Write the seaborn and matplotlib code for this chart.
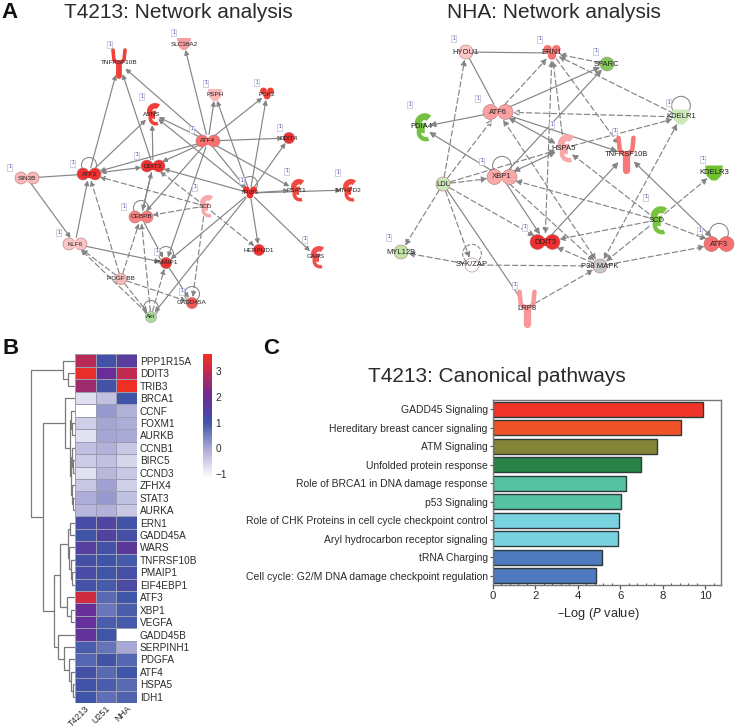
import numpy as np
import pandas as pd
import matplotlib
matplotlib.use("Agg")
import matplotlib.pyplot as plt
import seaborn as sns
from matplotlib.colors import LinearSegmentedColormap
from matplotlib.patches import Circle, Wedge, Polygon, Rectangle
from matplotlib.ticker import MultipleLocator

W, H = 735, 727

# ===== data: heatmap =====
samples = ["T4213", "U251", "NHA"]
genes = ["PPP1R15A", "DDIT3", "TRIB3", "BRCA1", "CCNF", "FOXM1", "AURKB", "CCNB1", "BIRC5", "CCND3",
         "ZFHX4", "STAT3", "AURKA", "ERN1", "GADD45A", "WARS", "TNFRSF10B", "PMAIP1", "EIF4EBP1",
         "ATF3", "XBP1", "VEGFA", "GADD45B", "SERPINH1", "PDGFA", "ATF4", "HSPA5", "IDH1"]
t4213 = [2.9, 3.5, 2.6, -0.7, -1.15, -0.5, -0.75, -0.3, -0.45, -0.75, -0.4, -0.05, -0.2, 1.2, 1.0, 1.5,
         1.15, 1.25, 1.1, 3.2, 1.9, 1.9, 1.8, 0.9, 0.8, 1.1, 1.05, 1.0]
u251 = [1.1, 2.0, 1.1, -0.3, 0.2, 0.05, 0.05, -0.1, -0.3, -0.2, 0.1, 0.2, -0.1, 1.4, 1.45, 1.1,
        1.0, 1.0, 0.95, 0.75, 0.6, 0.9, 1.0, 0.65, 1.05, 0.75, 0.9, 0.7]
nha = [1.6, 3.0, 3.6, 1.0, -0.1, -0.05, 0.0, -0.4, -0.6, -0.4, -0.5, -0.3, -0.4, 1.05, 1.15, 1.7,
       0.95, 1.15, 1.3, 1.0, 0.9, 0.95, -1.15, 0.0, 0.8, 1.0, 0.75, 0.85]

# dendrogram: (merge x in px, child, child), leaves are row numbers
tree = (31,
        (63, 0, (68, 1, 2)),
        (43.5,
         (65, 3, (70, (71, 4, (72, 5, 6)),
                  (71, (72, 7, (73, 8, 9)), (72, 10, (73, 11, 12))))),
         (54,
          (60,
           (68, (70, 13, 14), (69, 15, (71, 16, (72, 17, 18)))),
           (67, 19, (71, 20, 21))),
          (58, 22, (64, 23, (69, 24, (71, 25, (73, 26, 27))))))))

# ===== data: bars =====
pathways = ["GADD45 Signaling", "Hereditary breast cancer signaling", "ATM Signaling",
            "Unfolded protein response", "Role of BRCA1 in DNA damage response", "p53 Signaling",
            "Role of CHK Proteins in cell cycle checkpoint control", "Aryl hydrocarbon receptor signaling",
            "tRNA Charging", "Cell cycle: G2/M DNA damage checkpoint regulation"]
log_p = [9.9, 8.87, 7.73, 7.0, 6.27, 6.03, 5.93, 5.88, 5.13, 4.87]
bar_colors = ["#f0342a", "#f05328", "#85853a", "#2a8447", "#55c2a2", "#55c2a2",
              "#78d2e0", "#78d2e0", "#4e7ac0", "#4e7ac0"]

# ===== data: networks =====
a_names = ["TNFRSF10B", "SLC38A2", "PSPH", "PCK2", "ASNS", "ATF4", "DDIT4", "DDIT3", "ATF3", "SIN3B", "PSAT1",
           "MTHFD2", "TRIB3", "SCD", "CEBPB", "KLF6", "HERPUD1", "GARS", "PMAIP1", "PDGF BB", "GADD45A", "Akt"]
a_x = [119, 184, 215, 267, 152, 208, 289, 153, 89, 27, 296, 348, 250, 205, 141, 75, 259, 316, 166, 121, 192, 151]
a_y = [63, 44, 95, 94, 114, 141, 138, 166, 174, 178, 190, 190, 193, 206, 217, 244, 250, 257, 263, 279, 303, 317]
a_kind = ["y", "trap", "trap", "kinase", "cres", "double", "circle", "double", "double", "double", "cres",
          "cres", "kinase", "cres", "double", "double", "circle", "cres", "circle", "circle", "circle", "circle"]
a_col = ["#f0403a", "#f4a0a0", "#f8b8b8", "#f0403a", "#f0403a", "#f87070", "#ee3030", "#ee3030", "#ee3030",
         "#fbb8b8", "#f04a40", "#f04a40", "#ee3030", "#f8a8a8", "#f88080", "#fcc4c4", "#ee3030", "#f05050",
         "#ee3030", "#f4bcbc", "#f05858", "#a8dc98"]
a_box_x = [110, 174, 206, 257, 142, 192, 280, 137, 73, 10, 287, 338, 242, 195, 124, 59, 157, 305, 182]
a_box_y = [44, 32, 83, 82, 96, 129, 127, 155, 163, 167, 171, 172, 180, 187, 206, 232, 251, 239, 291]
a_edges = [("ATF3", "TNFRSF10B", "s"), ("DDIT3", "TNFRSF10B", "s"), ("ATF4", "TNFRSF10B", "s"),
           ("ATF4", "SLC38A2", "s"), ("ATF4", "PSPH", "s"), ("ATF4", "PCK2", "s"), ("ATF4", "ASNS", "s"),
           ("ATF3", "ASNS", "s"), ("DDIT3", "ASNS", "s"), ("TRIB3", "ASNS", "s"), ("ATF4", "DDIT4", "s"),
           ("ATF4", "DDIT3", "s"), ("ATF4", "ATF3", "s"), ("ATF3", "DDIT3", "b"), ("TRIB3", "DDIT3", "s"),
           ("TRIB3", "PCK2", "s"), ("TRIB3", "PSPH", "s"), ("TRIB3", "DDIT4", "s"), ("TRIB3", "PSAT1", "s"),
           ("ATF4", "PSAT1", "s"), ("ATF4", "TRIB3", "s"), ("TRIB3", "MTHFD2", "s"), ("TRIB3", "HERPUD1", "s"),
           ("TRIB3", "GARS", "s"), ("TRIB3", "PMAIP1", "s"), ("TRIB3", "Akt", "s"), ("ATF4", "PMAIP1", "s"),
           ("ATF4", "CEBPB", "s"), ("CEBPB", "DDIT3", "s"), ("DDIT3", "CEBPB", "s"), ("SIN3B", "ATF3", "l"),
           ("SIN3B", "KLF6", "s"), ("KLF6", "ATF3", "s"), ("KLF6", "PMAIP1", "s"), ("CEBPB", "PMAIP1", "s"),
           ("SCD", "ATF3", "d"), ("SCD", "DDIT3", "d"), ("SCD", "CEBPB", "d"), ("SCD", "HERPUD1", "d"),
           ("SCD", "GADD45A", "d"), ("PDGF BB", "ATF3", "d"), ("PDGF BB", "CEBPB", "d"), ("PDGF BB", "KLF6", "d"),
           ("PDGF BB", "GADD45A", "d"), ("PDGF BB", "Akt", "d"), ("Akt", "KLF6", "d"), ("Akt", "CEBPB", "d"),
           ("Akt", "PMAIP1", "d"), ("PMAIP1", "GADD45A", "s")]
a_loops = ["ATF3", "CEBPB", "TRIB3", "PMAIP1", "GADD45A", "Akt"]

b_names = ["HYOU1", "ERN1", "SPARC", "ATF6", "KDELR1", "PDIA4", "HSPA5", "TNFRSF10B", "XBP1", "LDL", "KDELR3",
           "SCD", "ATF3", "DDIT3", "MYL12B", "SYK/ZAP", "P38 MAPK", "LRP8"]
b_x = [466, 552, 607, 498, 681, 421, 564, 626, 502, 443, 714, 657, 719, 545, 401, 472, 600, 527]
b_y = [52, 53, 64, 112, 117, 127, 148, 154, 177, 184, 173, 220, 244, 242, 252, 265, 266, 308]
b_kind = ["circle", "kinase", "circle", "double", "trap", "cres", "cres", "y", "double", "circle", "trap", "cres",
          "double", "double", "circle", "circle", "circle", "y"]
b_col = ["#fcc8c8", "#f87070", "#84c858", "#fba0a0", "#cce8b8", "#74c040", "#f8a8a8", "#f87878", "#fba8a8",
         "#c8e8b8", "#70c030", "#78c440", "#f87070", "#ee3030", "#c0e4a8", "#ffffff", "#c8c8c8", "#f89898"]
b_box_x = [454, 540, 596, 478, 669, 410, 552, 615, 482, 703, 646, 700, 525, 389, 515]
b_box_y = [38, 39, 51, 98, 102, 104, 124, 131, 161, 159, 197, 230, 227, 237, 285]
b_edges = [("HYOU1", "ERN1", "l"), ("ATF6", "HYOU1", "l"), ("LDL", "HYOU1", "d"), ("ATF6", "ERN1", "d"),
           ("ATF6", "SPARC", "s"), ("KDELR1", "ERN1", "d"), ("SPARC", "ERN1", "d"), ("ERN1", "TNFRSF10B", "d"),
           ("HSPA5", "ERN1", "d"), ("DDIT3", "ERN1", "e"), ("ATF6", "PDIA4", "s"), ("XBP1", "PDIA4", "s"),
           ("ATF6", "HSPA5", "b"), ("ATF6", "TNFRSF10B", "s"), ("XBP1", "SPARC", "s"), ("XBP1", "HSPA5", "b"),
           ("XBP1", "DDIT3", "s"), ("XBP1", "P38 MAPK", "d"), ("ATF6", "P38 MAPK", "e"), ("LDL", "ATF6", "o"),
           ("KDELR1", "ATF6", "o"), ("LDL", "XBP1", "d"), ("LDL", "HSPA5", "d"), ("LDL", "DDIT3", "d"),
           ("LDL", "MYL12B", "d"), ("LDL", "SYK/ZAP", "d"), ("LDL", "LRP8", "l"), ("LRP8", "P38 MAPK", "d"),
           ("SYK/ZAP", "P38 MAPK", "n"), ("SYK/ZAP", "MYL12B", "d"), ("P38 MAPK", "DDIT3", "d"),
           ("P38 MAPK", "ATF3", "d"), ("P38 MAPK", "KDELR1", "e"), ("SCD", "XBP1", "d"), ("SCD", "HSPA5", "d"),
           ("SCD", "ATF3", "d"), ("SCD", "DDIT3", "d"), ("SCD", "P38 MAPK", "d"), ("SCD", "KDELR3", "d"),
           ("DDIT3", "TNFRSF10B", "s"), ("ATF3", "TNFRSF10B", "b"), ("HSPA5", "KDELR1", "d")]
b_loops = ["XBP1", "KDELR1", "ATF3", "SYK/ZAP"]

sns.set_theme(style="white")
plt.rcParams["font.family"] = ["Liberation Sans", "DejaVu Sans"]
TXT = "#2a2a2a"
EDGE = "#858585"
EXTENT = {"double": (12, 6.5), "circle": (6, 6), "cres": (7, 11), "y": (7, 13), "kinase": (6, 6), "trap": (7, 6)}


def px_axes(fig, x0, y0, x1, y1):
    return fig.add_axes([x0 / W, 1 - y1 / H, (x1 - x0) / W, (y1 - y0) / H])


def reach(kind, dx, dy, scale):
    # distance from a node centre to its outline along (dx, dy)
    rx, ry = EXTENT[kind]
    ang = np.arctan2(dy, dx)
    return 1 / np.hypot(np.cos(ang) / (rx * scale), np.sin(ang) / (ry * scale))


def draw_edge(ax, p0, p1, k0, k1, style, scale):
    dx, dy = p1[0] - p0[0], p1[1] - p0[1]
    sa = reach(k0, dx, dy, scale) * 0.72
    sb = reach(k1, dx, dy, scale) * 0.72
    head = {"s": "-|>", "d": "-|>", "l": "-", "n": "-", "o": "-|>", "b": "<|-|>", "e": "<|-|>"}[style]
    ls = (0, (4.5, 2.5)) if style in "dneo" else "-"
    fc = "white" if style == "o" else EDGE
    ax.annotate("", xy=p1, xytext=p0, zorder=2,
                arrowprops=dict(arrowstyle=head, lw=0.85, ls=ls, color=EDGE, fc=fc, ec=EDGE,
                                mutation_scale=7 * scale, shrinkA=sa, shrinkB=sb))


def draw_node(ax, x, y, kind, col, scale):
    ec = "#b07a7a" if col[1] in "efc" else "#a0a0a0"
    s = scale
    if kind == "circle":
        ax.add_patch(Circle((x, y), 5.6 * s, fc=col, ec=ec, lw=0.4, zorder=3))
    elif kind == "double":
        for off in (-6, 6):
            ax.add_patch(Circle((x + off * s, y), 6 * s, fc=col, ec=ec, lw=0.4, zorder=3))
        ax.add_patch(Rectangle((x - 6 * s, y - 3.5 * s), 12 * s, 7 * s, fc=col, ec="none", zorder=3))
    elif kind == "cres":
        ax.add_patch(Wedge((x + 3 * s, y - 3 * s), 8 * s, 90, 310, width=5.5 * s, fc=col, ec="none", zorder=3))
        ax.add_patch(Wedge((x + 4 * s, y + 4 * s), 7.5 * s, 70, 270, width=3.5 * s, fc=col, ec="none", zorder=3))
    elif kind == "y":
        for xs, ys, lw in (([x - 6 * s, x - 5 * s, x], [y - 13 * s, y - 3 * s, y + 1 * s], 2.6),
                           ([x + 6 * s, x + 5 * s, x], [y - 13 * s, y - 3 * s, y + 1 * s], 2.6),
                           ([x, x], [y, y + 13 * s], 4.2)):
            ax.plot(xs, ys, color=col, lw=lw * s, solid_capstyle="round", zorder=3)
    elif kind == "kinase":
        ax.add_patch(Circle((x - 3.5 * s, y - 3 * s), 3.4 * s, fc=col, ec="none", zorder=3))
        ax.add_patch(Circle((x + 3.5 * s, y - 3 * s), 3.4 * s, fc=col, ec="none", zorder=3))
        ax.add_patch(Circle((x, y + 2 * s), 3.4 * s, fc=col, ec="none", zorder=3))
    elif kind == "trap":
        ax.add_patch(Polygon([(x - 7 * s, y - 6 * s), (x + 7 * s, y - 6 * s), (x + 6 * s, y + 2 * s),
                              (x + 2 * s, y + 6 * s), (x - 2 * s, y + 6 * s), (x - 6 * s, y + 2 * s)],
                             fc=col, ec="none", zorder=3))


def draw_network(ax, names, xs, ys, kinds, cols, box_x, box_y, edges, loops, scale, fs):
    pos = {n: (x, y) for n, x, y in zip(names, xs, ys)}
    kind = dict(zip(names, kinds))
    for a, b, style in edges:
        draw_edge(ax, pos[a], pos[b], kind[a], kind[b], style, scale)
    for n in loops:
        x, y = pos[n]
        ax.add_patch(Circle((x, y - 9 * scale), 7.5 * scale, fc="none", ec="#8a8a8a", lw=0.8, zorder=2,
                            ls="--" if n == "SYK/ZAP" else "-"))
    for n, x, y, k, c in zip(names, xs, ys, kinds, cols):
        draw_node(ax, x, y, k, c, scale)
        ax.text(x, y, n, fontsize=fs, ha="center", va="center", color="#222222", zorder=5)
    for bx, by in zip(box_x, box_y):
        ax.add_patch(Rectangle((bx - 2.5, by - 3.5), 5, 7, fc="white", ec="#b8bcd8", lw=0.5, zorder=4))
        ax.text(bx, by, "1", fontsize=3.5, color="#3040a0", ha="center", va="center", zorder=5)


def draw_tree(ax, node, row_h, top):
    # returns x, y of the joint so the parent can hook on to it
    if not isinstance(node, tuple):
        return 75, top + (node + 0.5) * row_h
    x, left, right = node
    lx, ly = draw_tree(ax, left, row_h, top)
    rx, ry = draw_tree(ax, right, row_h, top)
    ax.plot([lx, x, x, rx], [ly, ly, ry, ry], color="#7a7a7a", lw=0.9, solid_joinstyle="miter", zorder=1)
    return x, (ly + ry) / 2


fig = plt.figure(figsize=(W / 100, H / 100), dpi=100)

# overlay in pixel units for the networks, dendrogram and headings
over = fig.add_axes([0, 0, 1, 1])
over.set_xlim(0, W)
over.set_ylim(H, 0)
over.axis("off")

draw_network(over, a_names, a_x, a_y, a_kind, a_col, a_box_x, a_box_y, a_edges, a_loops, 1.0, 4.6)
draw_network(over, b_names, b_x, b_y, b_kind, b_col, b_box_x, b_box_y, b_edges, b_loops, 1.25, 5.5)
draw_tree(over, tree, (703 - 354.5) / len(genes), 354.5)

over.text(1, 12, "A", fontsize=16, fontweight="bold", color="#111111", va="center")
over.text(2, 348, "B", fontsize=16, fontweight="bold", color="#111111", va="center")
over.text(263, 348, "C", fontsize=16, fontweight="bold", color="#111111", va="center")
over.text(178.5, 13, "T4213: Network analysis", fontsize=15, color=TXT, ha="center", va="center")
over.text(554, 13, "NHA: Network analysis", fontsize=15, color=TXT, ha="center", va="center")
over.text(497, 376, "T4213: Canonical pathways", fontsize=15, color=TXT, ha="center", va="center")

# ===== B: heatmap =====
heat = pd.DataFrame({"T4213": t4213, "U251": u251, "NHA": nha}, index=genes)[samples]
cmap = LinearSegmentedColormap.from_list(
    "wbr", [(0, "#ffffff"), (0.239, "#a9a9d6"), (0.447, "#3f55a8"), (0.655, "#6a2c96"),
            (0.863, "#c02a50"), (1, "#f43020")])
hm_ax = px_axes(fig, 75, 354.5, 137, 703)
cb_ax = px_axes(fig, 203, 354, 211.5, 478)
sns.heatmap(heat, ax=hm_ax, cbar_ax=cb_ax, cmap=cmap, vmin=-1.15, vmax=3.66, linewidths=0.5,
            linecolor="#9c9cb4", cbar_kws={"ticks": [-1, 0, 1, 2, 3]})
hm_ax.yaxis.tick_right()
hm_ax.set_yticks(np.arange(len(genes)) + 0.5, genes, rotation=0, fontsize=7.2, color=TXT)
hm_ax.set_xticks(np.arange(3) + 0.5, samples, rotation=45, ha="right", rotation_mode="anchor", fontsize=6.4, color=TXT)
hm_ax.tick_params(axis="y", length=0, pad=2)
hm_ax.tick_params(axis="x", length=0, pad=0.5)
hm_ax.set_xlabel("")
hm_ax.set_ylabel("")
cbar = hm_ax.collections[0].colorbar
cbar.outline.set_visible(False)
cbar.ax.tick_params(length=0, labelsize=7.2, labelcolor=TXT, pad=3)
cbar.set_ticklabels(["\u22121", "0", "1", "2", "3"])

# ===== C: bars =====
bars = pd.DataFrame({"pathway": pathways, "log_p": log_p})
bar_ax = px_axes(fig, 492.7, 400, 721, 585)
sns.barplot(data=bars, x="log_p", y="pathway", hue="pathway", palette=bar_colors, legend=False,
            ax=bar_ax, width=0.8, edgecolor="#2f3a3a", linewidth=1.0, saturation=1)
bar_ax.set_xlim(0, 10.74)
bar_ax.set_ylim(9.5, -0.5)
bar_ax.set_ylabel("")
bar_ax.set_xlabel("\u2013Log ($\\mathit{P}$ value)", fontsize=9.2, color=TXT)
bar_ax.xaxis.set_label_coords(0.461, -0.115)
bar_ax.xaxis.set_major_locator(MultipleLocator(2))
bar_ax.xaxis.set_minor_locator(MultipleLocator(0.4))
bar_ax.tick_params(axis="x", which="major", direction="out", length=3, width=0.9, color="#555555", labelsize=8.2,
                   labelcolor=TXT, pad=1, bottom=True)
bar_ax.tick_params(axis="x", which="minor", direction="in", length=1.5, width=0.8, color="#555555", bottom=True)
bar_ax.tick_params(axis="y", direction="out", length=2, width=0.8, color="#555555", labelsize=7.5,
                   labelcolor=TXT, pad=1.5, left=True)
for side in bar_ax.spines.values():
    side.set_visible(True)
    side.set_color("#777777")
    side.set_linewidth(1.0)

fig.savefig("out.png", dpi=100)
